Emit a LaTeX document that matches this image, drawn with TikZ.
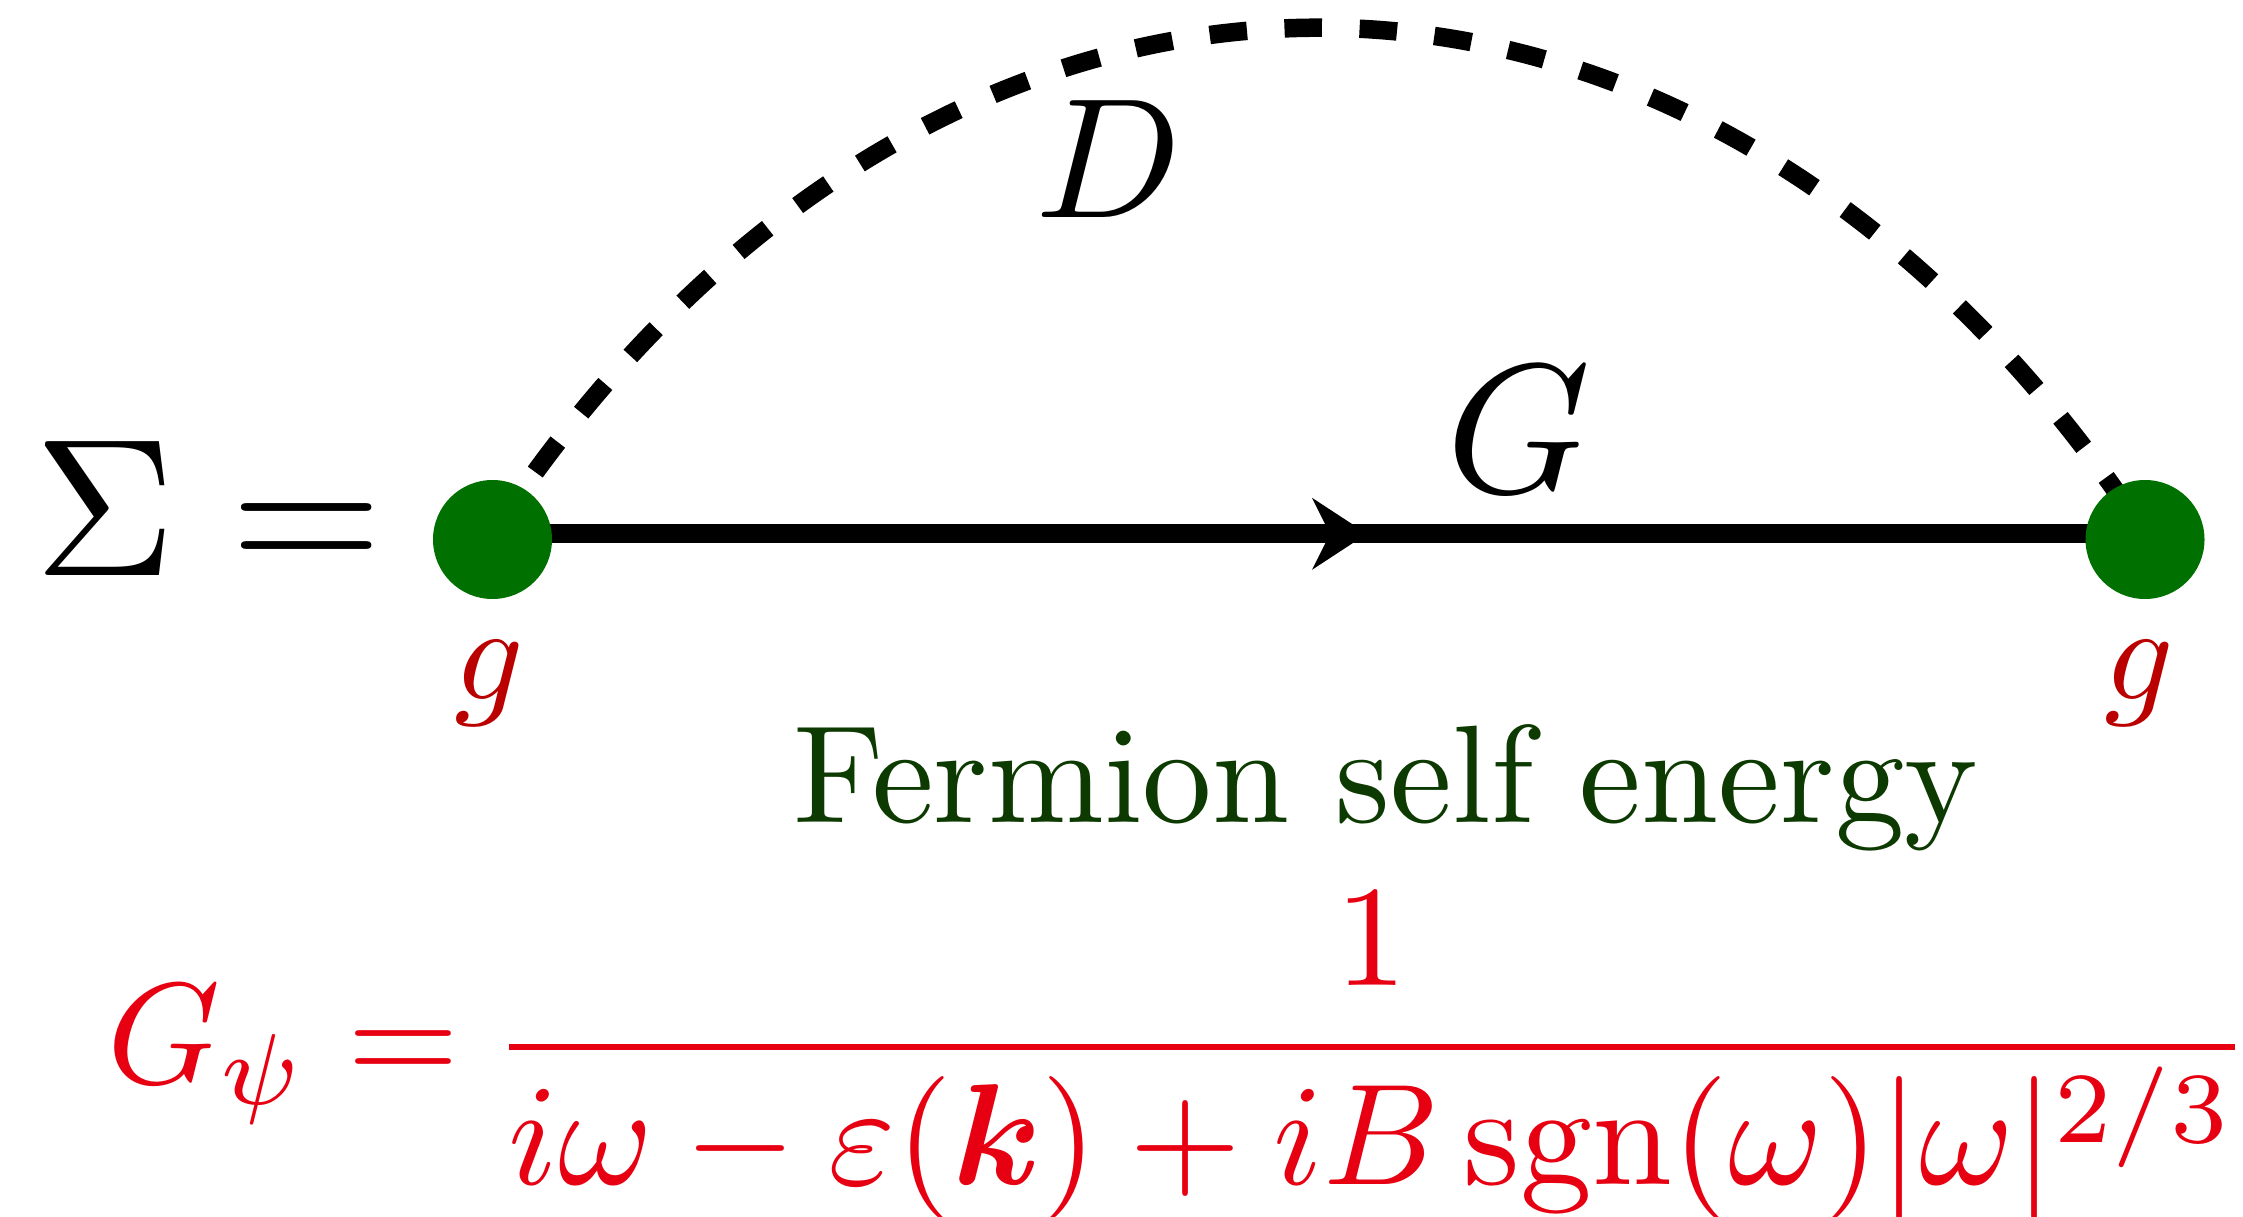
\documentclass[tikz,border=0pt]{standalone}
\usepackage{amsmath}
\usetikzlibrary{decorations.markings}
\definecolor{vgreen}{RGB}{0,112,0}
\definecolor{gred}{RGB}{187,0,0}
\definecolor{fgreen}{RGB}{12,58,0}
\definecolor{fred}{RGB}{230,0,18}
\begin{document}
\begin{tikzpicture}[x=1pt,y=-1pt,
  lbl/.style={inner sep=0pt, anchor=base},
  lblw/.style={inner sep=0pt, anchor=base west},
  vertexdot/.style={circle, fill=vgreen, minimum size=119pt, inner sep=0pt},
  propline/.style={line width=19pt},
  bosonline/.style={line width=18.5pt, dash pattern=on 37.5pt off 37.6pt},
  arrowmark/.style={postaction={decorate}, decoration={markings,
    mark=at position 874.5pt with {\fill (0,0) -- (-55,-36) -- (-37,0) -- (-55,36) -- cycle;}}}
]
\useasboundingbox (0,0) rectangle (2243,1217);
\coordinate (pL) at (492.5,533.8);
\coordinate (pR) at (2145,533.8);
\coordinate (c1) at (935,-141);
\coordinate (c2) at (1702,-141);
\draw[bosonline] (pL) .. controls (c1) and (c2) .. (pR);
\draw[propline, arrowmark] (pL) -- (pR);
\node[vertexdot] (cL) at (492.5,539.5) {};
\node[vertexdot] (cR) at (2145,539.5) {};
\node[lblw] (sig) at (34,575.7) {\scalebox{19.6}{$\Sigma =$}};
\node[lbl] (D) at (1109,218) {\scalebox{17.1}{$D$}};
\node[lbl] (G) at (1519,492.6) {\scalebox{18.4}{$G$}};
\node[lbl, text=gred] (gL) at (489,699) {\scalebox{13.6}{$g$}};
\node[lbl, text=gred] (gR) at (2139,699) {\scalebox{13.6}{$g$}};
\node[lbl, text=fgreen] (title) at (1385.5,822.7) {\scalebox{13.9}{Fermion self energy}};
\node[lblw, text=fred] (eq) at (106.8,1083) {\scalebox{14.4}{$G_\psi = \mkern-1mu\dfrac{1}{i\omega - \varepsilon(\boldsymbol{k}) + iB\operatorname{sgn}(\omega)|\omega|^{2/3}}$}};
\end{tikzpicture}
\end{document}
